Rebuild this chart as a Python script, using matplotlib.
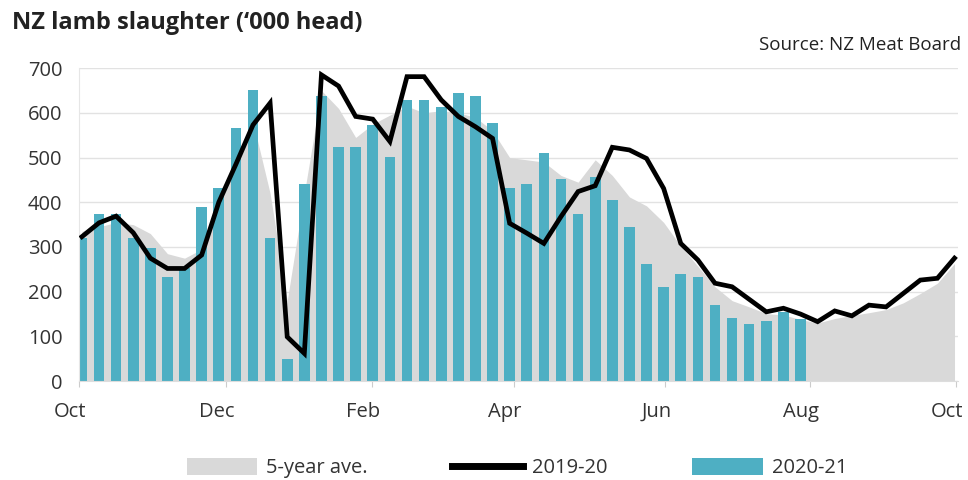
import numpy as np
import matplotlib
matplotlib.use("Agg")
import matplotlib.pyplot as plt
import matplotlib.transforms as mtransforms
from matplotlib.patches import Patch
from matplotlib.lines import Line2D

plt.rcParams['font.family'] = ['Open Sans', 'DejaVu Sans']

# weekly values, '000 head, season starting October
avg_5yr = [335, 345, 355, 350, 330, 285, 275, 295, 400, 500,
           580, 420, 180, 420, 650, 610, 545, 575, 595, 615,
           600, 605, 600, 590, 560, 500, 495, 490, 460, 445,
           495, 460, 412, 392, 355, 302, 257, 211, 180, 166,
           151, 148, 138, 130, 140, 147, 153, 160, 175, 196,
           219, 263]
season_1920 = [323, 354, 369, 332, 275, 252, 252, 282, 400, 485,
               573, 622, 99, 62, 685, 660, 592, 586, 536, 681,
               681, 629, 592, 569, 543, 353, 331, 308, 368, 424,
               437, 523, 517, 498, 431, 308, 271, 219, 211, 183,
               155, 163, 150, 133, 157, 146, 170, 166, 196, 226,
               230, 275]
season_2021 = [319, 374, 374, 319, 297, 232, 252, 389, 433, 567,
               651, 319, 49, 440, 638, 523, 523, 572, 502, 629,
               629, 614, 644, 637, 578, 433, 440, 510, 451, 374,
               457, 404, 345, 262, 210, 240, 232, 170, 142, 127,
               134, 154, 138]
month_labels = ['Oct', 'Dec', 'Feb', 'Apr', 'Jun', 'Aug', 'Oct']
month_pos = [-0.17, 8.4, 16.97, 25.25, 34.1, 42.57, 51.08]

weeks = np.arange(len(avg_5yr))
bar_weeks = np.arange(len(season_2021))

fig = plt.figure(figsize=(9.68, 4.8), dpi=100)
ax = fig.add_axes([0.0816, 0.206, 0.908, 0.652])

ax.fill_between(weeks, avg_5yr, 0, color='#d9d9d9', linewidth=0, zorder=1)
ax.bar(bar_weeks, season_2021, width=0.62, color='#4eafc3', zorder=2)
ax.plot(weeks, season_1920, color='black', linewidth=3.4, zorder=3,
        solid_joinstyle='miter')

ax.set_xlim(-0.17, 51.2)
ax.set_ylim(0, 700)
ax.set_yticks(range(0, 701, 100))
ax.grid(axis='y', color='#e2e2e2', linewidth=1)
ax.set_axisbelow(True)
ax.set_xticks(month_pos)
ax.set_xticklabels(month_labels)
ax.tick_params(axis='x', length=4, color='#cccccc', pad=11, labelsize=14.5,
               labelcolor='#333333')
ax.tick_params(axis='y', length=0, pad=12, labelsize=14.5, labelcolor='#333333')
# labels sit a little left of their tick marks
shift = mtransforms.ScaledTranslation(-9 / 100, 0, fig.dpi_scale_trans)
for lab in ax.get_xticklabels():
    lab.set_transform(lab.get_transform() + shift)
for s in ['top', 'right']:
    ax.spines[s].set_visible(False)
ax.spines['left'].set_color('#e6e6e6')
ax.spines['bottom'].set_color('#dddddd')

fig.text(0.012, 0.953, "NZ lamb slaughter (\u2018000 head)", fontsize=17,
         fontweight='bold', color='#222222', va='center', ha='left')
fig.text(0.993, 0.906, 'Source: NZ Meat Board', fontsize=13.5,
         color='#222222', va='center', ha='right')

handles = [Patch(facecolor='#d9d9d9', edgecolor='none'),
           Line2D([0], [0], color='black', linewidth=5),
           Patch(facecolor='#4eafc3', edgecolor='none')]
fig.legend(handles, ['5-year ave.', '2019-20', '2020-21'], loc='center',
           bbox_to_anchor=(0.534, 0.025), ncol=3, frameon=False,
           fontsize=14.5, handlelength=3.5, handleheight=0.9,
           handletextpad=0.45, columnspacing=4.2, labelcolor='#333333')

fig.savefig('out.png', dpi=100)
